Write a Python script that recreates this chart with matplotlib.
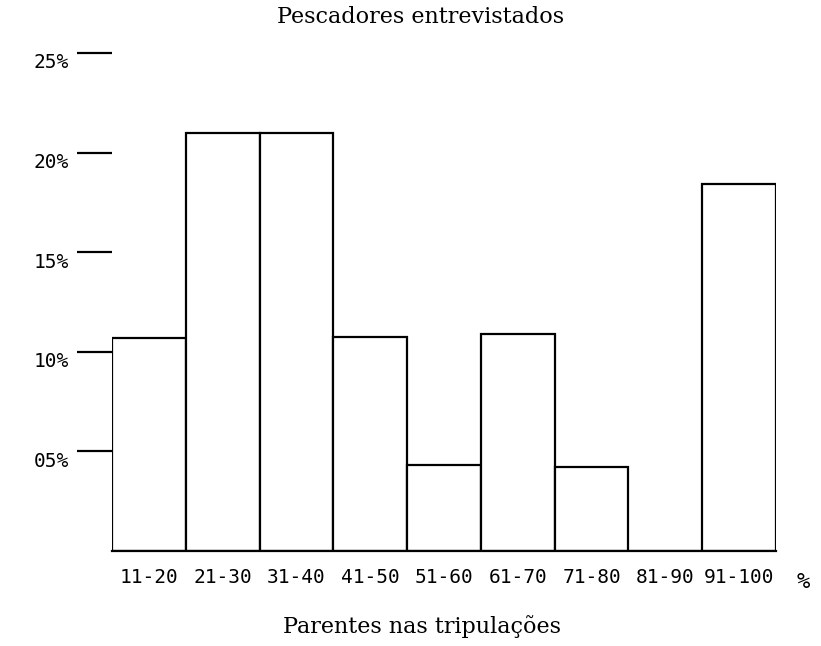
import matplotlib.pyplot as plt
import matplotlib.transforms as mtransforms

# faixas de parentes nas tripulações (%)
faixas = ['11-20', '21-30', '31-40', '41-50', '51-60', '61-70', '71-80', '81-90', '91-100']
# percentual de pescadores entrevistados
valores = [10.7, 21.0, 21.0, 10.75, 4.3, 10.9, 4.2, 0.0, 18.4]
yticks = [5, 10, 15, 20, 25]
ytick_labels = ['05%', '10%', '15%', '20%', '25%']

W, H = 821, 646
fig = plt.figure(figsize=(W / 100, H / 100), dpi=100)
ax = fig.add_axes([112 / W, 95 / H, 664 / W, 498 / H])

x = list(range(len(faixas)))
ax.bar(x, valores, width=1.0, align='edge', color='white',
       edgecolor='black', linewidth=1.6)

ax.set_xlim(0, len(faixas))
ax.set_ylim(0, 25)

for s in ['top', 'right', 'left']:
    ax.spines[s].set_visible(False)
ax.spines['bottom'].set_linewidth(1.6)

mono = 'DejaVu Sans Mono'
serif = 'DejaVu Serif'

ax.set_xticks([i + 0.5 for i in x])
ax.set_xticklabels(faixas, fontfamily=mono, fontsize=14)
ax.tick_params(axis='x', length=0, pad=12)

ax.set_yticks(yticks)
ax.set_yticklabels(ytick_labels, fontfamily=mono, fontsize=14)
ax.tick_params(axis='y', direction='out', length=25, width=1.6, pad=6)
offset = mtransforms.ScaledTranslation(0, -8 / 100, fig.dpi_scale_trans)
for lab in ax.get_yticklabels():
    lab.set_transform(lab.get_transform() + offset)

fig.text(803 / W, 1 - 582 / H, '%', fontfamily=mono,
         fontsize=16, ha='center', va='center')

fig.text(421 / W, 1 - 17 / H, 'Pescadores entrevistados', fontfamily=serif,
         fontsize=16, ha='center', va='center')
fig.text(422 / W, 1 - 627 / H, 'Parentes nas tripulações', fontfamily=serif,
         fontsize=16, ha='center', va='center')

fig.savefig('out.png', dpi=100)
